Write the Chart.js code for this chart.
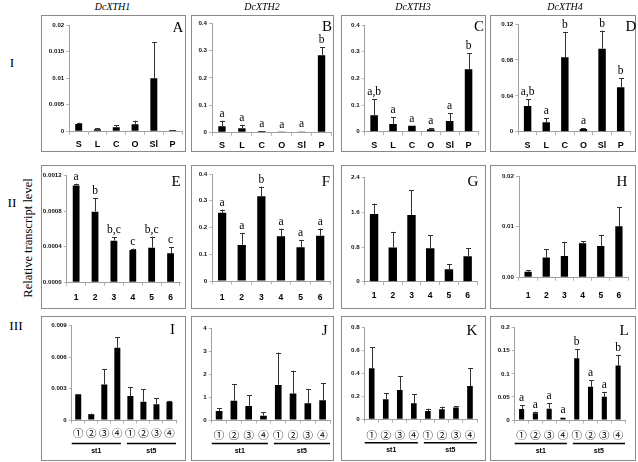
<!DOCTYPE html>
<html><head><meta charset="utf-8">
<script src="https://cdn.jsdelivr.net/npm/chart.js@4.4.1/dist/chart.umd.min.js"></script>
<style>
html,body{margin:0;padding:0;background:#fff;width:638px;height:462px;overflow:hidden;position:relative}
.box{position:absolute;border:1.5px solid #8a8a8a;box-sizing:border-box}
canvas{position:absolute}
.t{position:absolute;font-family:'Liberation Serif','DejaVu Serif',serif;color:#000;white-space:nowrap;transform:translate(-50%,-50%);line-height:1}
</style></head><body>
<script>
// ---------- categories ----------
const tissueCats = ['S','L','C','O','Sl','P'];
const stageCats = ['1','2','3','4','5','6'];
const treatCats = ['①','②','③','④','①','②','③','④'];
const groupLabels = ['st1','st5'];
const groupRanges = [[0,3],[4,7]];

// ---------- row I ----------
const valA = [0.00138,0.00038,0.00075,0.00132,0.00997,0.00025];
const errA = [0.00163,0.00056,0.00113,0.0020,0.0168,0.0003];
const valB = [0.022,0.015,0.005,0.001,0.003,0.283];
const errB = [0.043,0.028,0.006,0.0015,0.004,0.312];
const letB = ['a','a','a','a','a','b'];
const valC = [0.062,0.029,0.0225,0.009,0.040,0.234];
const errC = [0.121,0.054,0.023,0.014,0.069,0.294];
const letC = ['a,b','a','a','a','a','b'];
const valD = [0.0286,0.0104,0.0829,0.003,0.0925,0.0494];
const errD = [0.036,0.0149,0.111,0.0037,0.1126,0.0594];
const letD = ['a,b','a','b','a','b','b'];

// ---------- row II ----------
const valE = [0.00109,0.000795,0.000469,0.000364,0.00039,0.000326];
const errE = [0.00111,0.00095,0.000506,0.00038,0.000514,0.000394];
const letE = ['a','b','b,c','c','b,c','c'];
const valF = [0.255,0.135,0.317,0.167,0.126,0.169];
const errF = [0.267,0.180,0.353,0.196,0.153,0.196];
const letF = ['a','a','b','a','a','a'];
const valG = [1.56,0.79,1.54,0.77,0.29,0.59];
const errG = [1.80,1.15,2.11,1.07,0.41,0.78];
const valH = [0.0011,0.0039,0.0042,0.0067,0.0062,0.0101];
const errH = [0.0014,0.0055,0.0070,0.0071,0.0084,0.0139];

// ---------- row III ----------
const valI = [0.00245,0.00057,0.0034,0.0069,0.00229,0.00175,0.0015,0.00172];
const errI = [0.00245,0.00062,0.00487,0.0079,0.00315,0.00296,0.00207,0.00184];
const valJ = [0.39,0.84,0.61,0.19,1.53,1.16,0.73,0.86];
const errJ = [0.51,1.56,1.09,0.33,2.94,2.15,1.35,1.60];
const valK = [0.445,0.175,0.256,0.140,0.073,0.087,0.102,0.290];
const errK = [0.628,0.227,0.378,0.218,0.093,0.110,0.116,0.445];
const valL = [0.024,0.0144,0.0245,0.005,0.1336,0.072,0.0505,0.118];
const errL = [0.032,0.018,0.036,0.006,0.153,0.0866,0.061,0.141];
const letL = ['a','a','a','a','b','a','a','b'];

// ---------- y ticks ----------
const ticksA = [0,0.005,0.01,0.015,0.02], tlabA = ['0','0.005','0.01','0.015','0.02'];
const ticks04 = [0,0.1,0.2,0.3,0.4], tlab04 = ['0','0.1','0.2','0.3','0.4'];
const ticksD = [0,0.04,0.08,0.12], tlabD = ['0','0.04','0.08','0.12'];
const ticksE = [0,0.0004,0.0008,0.0012], tlabE = ['0.0000','0.0004','0.0008','0.0012'];
const ticksG = [0,0.8,1.6,2.4], tlabG = ['0','0.8','1.6','2.4'];
const ticksH = [0,0.01,0.02], tlabH = ['0.00','0.01','0.02'];
const ticksI = [0,0.003,0.006,0.009], tlabI = ['0','0.003','0.006','0.009'];
const ticksJ = [0,1,2,3,4], tlabJ = ['0','1','2','3','4'];
const ticksK = [0,0.2,0.4,0.6,0.8], tlabK = ['0','0.2','0.4','0.6','0.8'];
const ticksL = [0,0.05,0.1,0.15,0.2], tlabL = ['0','0.05','0.1','0.15','0.2'];

// ---------- panel layout: box [x,y,w,h], plot [left,top,right,bottom] ----------
const panels = [
 {id:'A',cats:tissueCats,vals:valA,errs:errA,lets:null,ticks:ticksA,tl:tlabA,box:[41,15,145,137],plot:[28.3,10,4,20.7],bar:0.37,xf:9,xp:4.7,lp:[178,27]},
 {id:'B',cats:tissueCats,vals:valB,errs:errB,lets:letB,ticks:ticks04,tl:tlab04,box:[191,15,143,137],plot:[21,8.3,2.5,19.7],bar:0.37,xf:9,xp:4.7,lp:[327,26]},
 {id:'C',cats:tissueCats,vals:valC,errs:errC,lets:letC,ticks:ticks04,tl:tlab04,box:[341,15,145,137],plot:[23.7,10,8,20.3],bar:0.4,xf:9,xp:4.7,lp:[479,26]},
 {id:'D',cats:tissueCats,vals:valD,errs:errD,lets:letD,ticks:ticksD,tl:tlabD,box:[490,15,146,137],plot:[28.3,9,6,20.3],bar:0.4,xf:9,xp:4.7,lp:[631,26]},
 {id:'E',cats:stageCats,vals:valE,errs:errE,lets:letE,ticks:ticksE,tl:tlabE,box:[41,165,145,144],plot:[25.7,10.7,6,26.7],bar:0.36,xf:8.5,xp:7,lp:[176,181]},
 {id:'F',cats:stageCats,vals:valF,errs:errF,lets:letF,ticks:ticks04,tl:tlab04,box:[191,165,143,144],plot:[21.3,9,4,28],bar:0.42,xf:8.5,xp:8,lp:[326,181]},
 {id:'G',cats:stageCats,vals:valG,errs:errG,lets:null,ticks:ticksG,tl:tlabG,box:[341,165,145,144],plot:[23.7,12.7,9,27.3],bar:0.45,xf:8.5,xp:5.4,lp:[473,181]},
 {id:'H',cats:stageCats,vals:valH,errs:errH,lets:null,ticks:ticksH,tl:tlabH,box:[490,165,146,144],plot:[29,11,8,31.7],bar:0.4,xf:8.5,xp:9.6,lp:[622,181]},
 {id:'I',cats:treatCats,vals:valI,errs:errI,lets:null,ticks:ticksI,tl:tlabI,box:[41,316,145,145],plot:[30.7,9.7,10,41],bar:0.46,xf:10.5,xp:3.2,lp:[172.5,328.5],grp:true},
 {id:'J',cats:treatCats,vals:valJ,errs:errJ,lets:null,ticks:ticksJ,tl:tlabJ,box:[191,316,143,145],plot:[20.7,12.3,4,41],bar:0.45,xf:10.5,xp:5,lp:[324.7,330],grp:true},
 {id:'K',cats:treatCats,vals:valK,errs:errK,lets:null,ticks:ticksK,tl:tlabK,box:[341,316,145,145],plot:[23.7,11.7,9,41.7],bar:0.4,xf:10.5,xp:5.6,lp:[472,330],grp:true},
 {id:'L',cats:treatCats,vals:valL,errs:errL,lets:letL,ticks:ticksL,tl:tlabL,box:[490,316,146,145],plot:[24.7,11.7,11,41],bar:0.37,xf:10.5,xp:5,lp:[624,330],grp:true}
];

function addText(txt, x, y, css){
  const d=document.createElement('div'); d.className='t'; d.textContent=txt;
  d.style.left=x+'px'; d.style.top=y+'px'; Object.assign(d.style, css||{});
  document.body.appendChild(d); return d;
}

function overlay(p){
  return {id:'ov'+p.id, afterDraw(chart){
    const ctx=chart.ctx, ys=chart.scales.y, xs=chart.scales.x;
    const meta=chart.getDatasetMeta(0);
    ctx.save();
    meta.data.forEach((el,i)=>{
      const x=Math.round(el.x)+0.5, yv=el.y, ye=ys.getPixelForValue(p.errs[i]);
      if(ye<yv-0.5){
        ctx.strokeStyle='#333'; ctx.lineWidth=1;
        ctx.beginPath(); ctx.moveTo(x,yv); ctx.lineTo(x,ye);
        ctx.moveTo(x-2.5,Math.round(ye)+0.5); ctx.lineTo(x+2.5,Math.round(ye)+0.5); ctx.stroke();
      }
      if(p.lets && p.lets[i]){
        ctx.fillStyle='#000'; ctx.font='11.5px "Liberation Serif", serif';
        ctx.textAlign='center'; ctx.textBaseline='alphabetic';
        ctx.fillText(p.lets[i], el.x, Math.min(ye,yv)-4);
      }
    });
    if(p.grp){
      const n=p.cats.length, cw=(xs.right-xs.left)/n, yb=xs.top;
      groupRanges.forEach(([a,b],g)=>{
        const x1=xs.getPixelForValue(a)-cw/2+(g?3:0), x2=xs.getPixelForValue(b)+cw/2-(g?0:3);
        ctx.strokeStyle='#000'; ctx.lineWidth=1.6;
        ctx.beginPath(); ctx.moveTo(x1,yb+23.5); ctx.lineTo(x2,yb+23.5); ctx.stroke();
        ctx.fillStyle='#000'; ctx.font='bold 7px "Liberation Sans", sans-serif';
        ctx.textAlign='center'; ctx.textBaseline='middle';
        ctx.fillText(groupLabels[g], (x1+x2)/2, yb+31);
      });
    }
    ctx.restore();
  }};
}

panels.forEach(p=>{
  const [bx,by,bw,bh]=p.box;
  const d=document.createElement('div'); d.className='box';
  Object.assign(d.style,{left:bx+'px',top:by+'px',width:bw+'px',height:bh+'px'});
  document.body.appendChild(d);
  const c=document.createElement('canvas'); c.width=bw; c.height=bh;
  Object.assign(c.style,{left:bx+'px',top:by+'px',width:bw+'px',height:bh+'px'});
  document.body.appendChild(c);
  new Chart(c,{
    type:'bar',
    data:{labels:p.cats,datasets:[{data:p.vals,backgroundColor:'#000',borderWidth:0,barPercentage:p.bar,categoryPercentage:1}]},
    options:{
      responsive:false, animation:false, devicePixelRatio:1,
      layout:{padding:{left:0,top:p.plot[1],right:p.plot[2],bottom:0}},
      plugins:{legend:{display:false},tooltip:{enabled:false}},
      scales:{
        x:{
          grid:{display:true,drawOnChartArea:false,drawTicks:true,tickLength:3.5,color:'#b4b4b4',offset:true},
          border:{display:true,color:'#a0a0a0',width:1},
          ticks:{font:{family:p.grp?'"Noto Sans CJK JP", "DejaVu Sans", sans-serif':'"Liberation Sans", Arial, sans-serif',size:p.xf,weight:p.grp?'normal':'bold'},color:'#000',padding:p.xp,maxRotation:0,autoSkip:false},
          afterFit(s){s.height=p.plot[3];}
        },
        y:{
          min:0,max:p.ticks[p.ticks.length-1],
          grid:{display:true,drawOnChartArea:false,drawTicks:true,tickLength:3,color:'#b4b4b4'},
          border:{display:true,color:'#a0a0a0',width:1},
          ticks:{font:{family:'"Liberation Sans", Arial, sans-serif',size:6.2,weight:'bold'},color:'#111',padding:2,
                 callback:(v)=>{const k=p.ticks.indexOf(v);return k>=0?p.tl[k]:'';}},
          afterBuildTicks(s){s.ticks=p.ticks.map(v=>({value:v}));},
          afterFit(s){s.width=p.plot[0];}
        }
      }
    },
    plugins:[overlay(p)]
  });
  addText(p.id, p.lp[0], p.lp[1], {fontSize:'15px'});
});

// titles
addText('DcXTH1',112.5,7,{fontSize:'10px',fontStyle:'italic'});
addText('DcXTH2',262,7,{fontSize:'10px',fontStyle:'italic'});
addText('DcXTH3',413,7,{fontSize:'10px',fontStyle:'italic'});
addText('DcXTH4',565,7,{fontSize:'10px',fontStyle:'italic'});
// row numerals
addText('I',12,63,{fontSize:'13.5px'});
addText('II',12,203,{fontSize:'13.5px'});
addText('III',16,326,{fontSize:'13.5px'});
addText('Relative transcript level',28,238,{fontSize:'12.5px',transform:'translate(-50%,-50%) rotate(-90deg)'});
</script>
</body></html>
